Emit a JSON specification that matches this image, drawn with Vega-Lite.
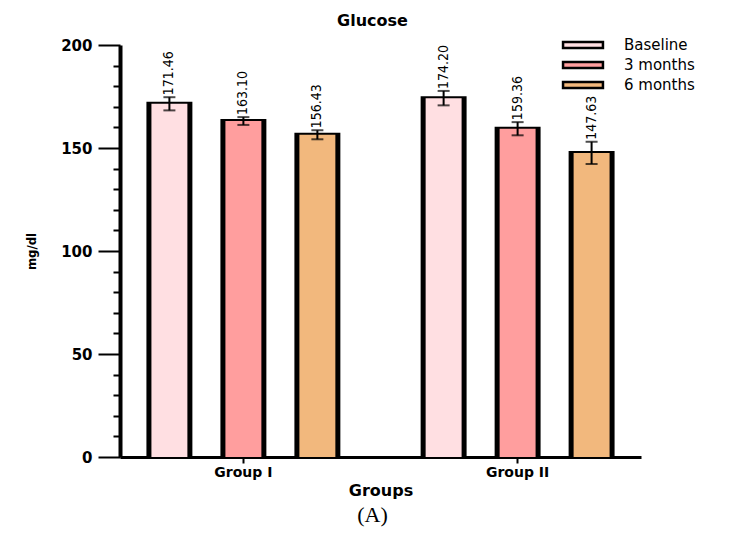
{
  "$schema": "https://vega.github.io/schema/vega-lite/v6.json",
  "width": 521,
  "height": 412,
  "autosize": {"type": "none"},
  "padding": {"left": 120, "top": 45, "right": 102, "bottom": 80},
  "background": "white",
  "title": {"text": "(A)", "orient": "bottom", "anchor": "middle", "font": "Liberation Serif", "fontSize": 22, "fontWeight": "normal", "color": "black", "offset": 7, "dx": -8},
  "config": {"view": {"stroke": null}, "axis": {"grid": false}},
  "data": {
    "values": [
      {"group": "Group I", "period": "Baseline", "mean": 171.46, "lo": 168.26, "hi": 174.66},
      {"group": "Group I", "period": "3 months", "mean": 163.10, "lo": 161.2, "hi": 165.0},
      {"group": "Group I", "period": "6 months", "mean": 156.43, "lo": 154.23, "hi": 158.63},
      {"group": "Group II", "period": "Baseline", "mean": 174.20, "lo": 170.7, "hi": 177.7},
      {"group": "Group II", "period": "3 months", "mean": 159.36, "lo": 156.16, "hi": 162.56},
      {"group": "Group II", "period": "6 months", "mean": 147.63, "lo": 142.23, "hi": 153.03}
    ]
  },
  "resolve": {"axis": {"x": "independent", "y": "independent"}},
  "layer": [
    {
      "mark": {"type": "bar", "color": "black", "stroke": "black", "strokeWidth": 10, "yOffset": 3, "clip": true},
      "encoding": {
        "x": {"field": "group", "type": "nominal", "sort": ["Group I", "Group II"], "scale": {"paddingInner": 0.19, "paddingOuter": 0.045}, "axis": null},
        "xOffset": {"field": "period", "type": "nominal", "sort": ["Baseline", "3 months", "6 months"], "scale": {"paddingInner": 0.514, "paddingOuter": 0.258}},
        "y": {"field": "mean", "type": "quantitative", "scale": {"domain": [0, 200], "nice": false},
          "axis": {"orient": "left", "title": "mg/dl", "values": [0, 50, 100, 150, 200],
            "tickSize": 22, "tickWidth": 2, "tickColor": "black", "domainColor": "black", "domainWidth": 4,
            "labelFont": "DejaVu Sans", "labelFontWeight": "bold", "labelFontSize": 15, "labelColor": "black", "labelPadding": 6,
            "titleFont": "DejaVu Sans Condensed", "titleFontWeight": "bold", "titleFontSize": 13, "titleColor": "black", "titlePadding": 22}}
      }
    },
    {
      "mark": {"type": "bar"},
      "encoding": {
        "x": {"field": "group", "type": "nominal", "sort": ["Group I", "Group II"],
          "axis": {"orient": "bottom", "title": "Groups", "labelAngle": 0, "bandPosition": 0.5, "domainWidth": 3, "domainColor": "black", "tickSize": 6, "tickWidth": 2, "tickColor": "black", "labelFont": "DejaVu Sans", "labelFontWeight": "bold", "labelFontSize": 14, "labelColor": "black", "labelPadding": 2, "titleFont": "DejaVu Sans", "titleFontWeight": "bold", "titleFontSize": 16, "titleColor": "black", "titlePadding": 3}},
        "xOffset": {"field": "period", "type": "nominal", "sort": ["Baseline", "3 months", "6 months"]},
        "y": {"field": "mean", "type": "quantitative",
          "axis": {"orient": "left", "title": null, "values": [10, 20, 30, 40, 60, 70, 80, 90, 110, 120, 130, 140, 160, 170, 180, 190], "labels": false, "domain": false, "tickSize": 7, "tickWidth": 2, "tickColor": "black"}},
        "color": {"field": "period", "type": "nominal", "sort": ["Baseline", "3 months", "6 months"],
          "scale": {"domain": ["Baseline", "3 months", "6 months"], "range": ["#ffdfe2", "#ff9e9e", "#f2b87d"]},
          "legend": {"title": null, "orient": "none", "legendX": 452, "legendY": -11, "padding": 0, "symbolType": "M-2.1,-0.32H2.1V0.32H-2.1Z", "symbolSize": 361, "symbolStrokeColor": "black", "symbolStrokeWidth": 2.5, "symbolOpacity": 1, "labelFont": "DejaVu Sans", "labelFontSize": 15, "labelColor": "black", "labelOffset": 30, "rowPadding": -1}}
      }
    },
    {
      "mark": {"type": "rule", "color": "black", "strokeWidth": 2},
      "encoding": {
        "x": {"field": "group", "type": "nominal", "sort": ["Group I", "Group II"], "axis": null},
        "xOffset": {"field": "period", "type": "nominal", "sort": ["Baseline", "3 months", "6 months"]},
        "y": {"field": "lo", "type": "quantitative", "axis": null},
        "y2": {"field": "hi"}
      }
    },
    {
      "mark": {"type": "tick", "orient": "horizontal", "color": "black", "size": 12, "thickness": 2},
      "encoding": {
        "x": {"field": "group", "type": "nominal", "sort": ["Group I", "Group II"], "axis": null},
        "xOffset": {"field": "period", "type": "nominal", "sort": ["Baseline", "3 months", "6 months"]},
        "y": {"field": "lo", "type": "quantitative", "axis": null}
      }
    },
    {
      "mark": {"type": "tick", "orient": "horizontal", "color": "black", "size": 12, "thickness": 2},
      "encoding": {
        "x": {"field": "group", "type": "nominal", "sort": ["Group I", "Group II"], "axis": null},
        "xOffset": {"field": "period", "type": "nominal", "sort": ["Baseline", "3 months", "6 months"]},
        "y": {"field": "hi", "type": "quantitative", "axis": null}
      }
    },
    {
      "mark": {"type": "text", "angle": 270, "align": "left", "baseline": "middle", "dx": 2, "font": "Liberation Sans Narrow, DejaVu Sans Condensed", "fontSize": 14, "color": "black"},
      "encoding": {
        "x": {"field": "group", "type": "nominal", "sort": ["Group I", "Group II"],
          "axis": {"orient": "top", "title": "Glucose", "domain": false, "ticks": false, "labels": false, "titleFont": "DejaVu Sans", "titleFontWeight": "bold", "titleFontSize": 16, "titleColor": "black", "titlePadding": 17, "titleX": 252}},
        "xOffset": {"field": "period", "type": "nominal", "sort": ["Baseline", "3 months", "6 months"]},
        "y": {"field": "hi", "type": "quantitative", "axis": null},
        "text": {"field": "mean", "type": "quantitative", "format": ".2f"}
      }
    }
  ]
}
